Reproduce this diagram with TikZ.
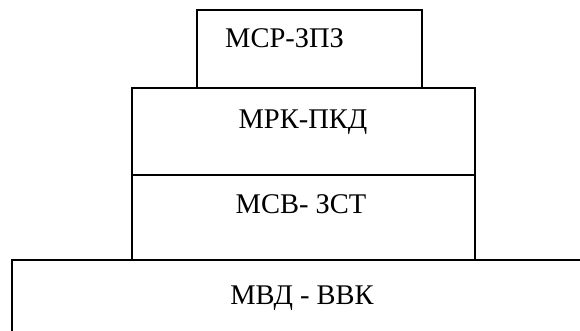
\documentclass[tikz,border=0pt]{standalone}
\usepackage{fontspec}
\setmainfont{Liberation Serif}
\begin{document}
\begin{tikzpicture}[x=1pt,y=-1pt,
  blk/.style={draw=black,line width=1.3pt},
  lbl/.style={inner sep=0pt,font=\fontsize{28.5}{31}\selectfont}]
\clip (0,0) rectangle (580,330);
\fill[white] (0,0) rectangle (580,330);
\draw[blk] (197,10) rectangle (422,88);
\draw[blk] (132,88) rectangle (475,175);
\draw[blk] (132,175) rectangle (475,260);
\draw[blk,line width=2pt] (12,260) rectangle (600,350);
\node[lbl,anchor=base west] (t1) at (225,47) {МСР-ЗПЗ};
\node[lbl,anchor=base] (t2) at (303,128) {МРК-ПКД};
\node[lbl,anchor=base] (t3) at (301,213) {МСВ- ЗСТ};
\node[lbl,anchor=base] (t4) at (302,304) {МВД - ВВК};
\end{tikzpicture}
\end{document}
